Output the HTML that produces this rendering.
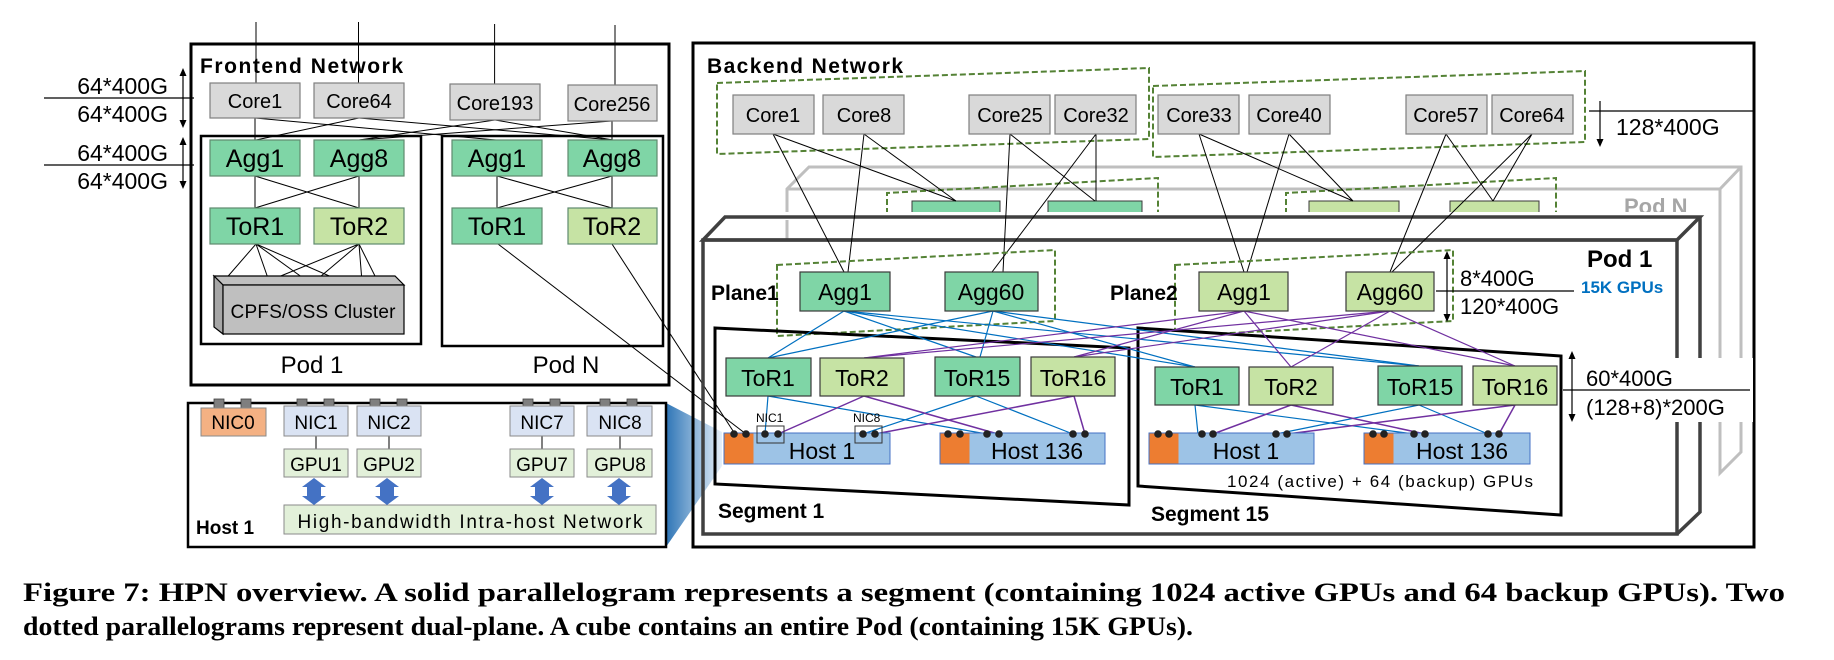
<!DOCTYPE html>
<html><head><meta charset="utf-8"><style>
html,body{margin:0;padding:0;background:#fff;}
svg{display:block;}
text{font-family:"Liberation Sans",sans-serif;}
.b{font-weight:bold;}
</style></head><body>
<svg width="1834" height="660" viewBox="0 0 1834 660" xmlns="http://www.w3.org/2000/svg">
<defs>
<linearGradient id="g" x1="0" x2="1" y1="0" y2="0"><stop offset="0" stop-color="#2e75b6"/><stop offset="1" stop-color="#e6f0fa"/></linearGradient>
</defs>
<g fill="none" stroke="#000" stroke-width="1">
<line x1="256" y1="22" x2="256" y2="83"/><line x1="358.5" y1="22" x2="358.5" y2="83"/>
<line x1="494.6" y1="24" x2="494.6" y2="84"/><line x1="615" y1="25" x2="615" y2="85"/>
</g>
<rect x="191" y="44" width="478" height="341" fill="none" stroke="#000" stroke-width="3"/>
<text x="200" y="73" class="b" font-size="21" textLength="203">Frontend Network</text>
<g stroke="#000" stroke-width="1">
<line x1="255" y1="118" x2="255" y2="140"/><line x1="255" y1="118" x2="496" y2="140"/>
<line x1="359" y1="118" x2="256" y2="140"/><line x1="359" y1="118" x2="613" y2="140"/>
<line x1="495" y1="120" x2="359" y2="140"/><line x1="495" y1="120" x2="613" y2="140"/>
<line x1="612" y1="121" x2="359" y2="140"/><line x1="612" y1="121" x2="612" y2="140"/>
</g>
<rect x="201" y="136" width="220" height="208" fill="none" stroke="#000" stroke-width="2.5"/>
<rect x="442" y="136" width="221" height="210" fill="none" stroke="#000" stroke-width="2.5"/>
<g stroke="#7f7f7f" stroke-width="1.2" fill="#d9d9d9">
<rect x="210" y="83" width="90" height="35"/><rect x="314" y="83" width="90" height="35"/>
<rect x="450" y="84" width="90" height="36"/><rect x="568" y="85" width="89" height="36"/>
</g>
<g font-size="20" text-anchor="middle">
<text x="255" y="108">Core1</text><text x="359" y="108">Core64</text>
<text x="495" y="110">Core193</text><text x="612" y="111">Core256</text>
</g>
<g stroke="#000" stroke-width="1">
<line x1="255" y1="176" x2="255" y2="208"/><line x1="255" y1="176" x2="359" y2="208"/>
<line x1="359" y1="176" x2="255" y2="208"/><line x1="359" y1="176" x2="359" y2="208"/>
<line x1="497" y1="176" x2="497" y2="208"/><line x1="497" y1="176" x2="612" y2="208"/>
<line x1="612" y1="176" x2="497" y2="208"/><line x1="612" y1="176" x2="612" y2="208"/>
<line x1="256" y1="244" x2="223" y2="282"/><line x1="256" y1="244" x2="270" y2="284"/><line x1="256" y1="244" x2="310" y2="283"/><line x1="256" y1="244" x2="350" y2="285"/>
<line x1="359" y1="244" x2="266" y2="282"/><line x1="359" y1="244" x2="314" y2="282"/><line x1="359" y1="244" x2="362" y2="282"/><line x1="359" y1="244" x2="375" y2="276"/>
<line x1="498" y1="244" x2="746" y2="434"/><line x1="612" y1="244" x2="735" y2="434"/>
</g>
<g stroke="#5f8a6f" stroke-width="1.2">
<rect x="210" y="140" width="90" height="36" fill="#7fd5a6"/><rect x="314" y="140" width="90" height="36" fill="#7fd5a6"/>
<rect x="452" y="140" width="90" height="36" fill="#7fd5a6"/><rect x="568" y="140" width="89" height="36" fill="#7fd5a6"/>
<rect x="210" y="208" width="90" height="36" fill="#7fd5a6"/><rect x="314" y="208" width="90" height="36" fill="#c6e3a4"/>
<rect x="452" y="208" width="90" height="36" fill="#7fd5a6"/><rect x="568" y="208" width="89" height="36" fill="#c6e3a4"/>
</g>
<g font-size="25" text-anchor="middle">
<text x="255" y="167">Agg1</text><text x="359" y="167">Agg8</text><text x="497" y="167">Agg1</text><text x="612" y="167">Agg8</text>
<text x="255" y="235">ToR1</text><text x="359" y="235">ToR2</text><text x="497" y="235">ToR1</text><text x="612" y="235">ToR2</text>
</g>
<polygon points="214,276 395,276 404,285 223,285" fill="#bfbfbf" stroke="#000" stroke-width="1.2"/>
<polygon points="214,276 223,285 223,334 214,327" fill="#a6a6a6" stroke="#000" stroke-width="1.2"/>
<rect x="223" y="285" width="181" height="49" fill="#bfbfbf" stroke="#000" stroke-width="1.2"/>
<text x="313" y="318" font-size="19" text-anchor="middle" textLength="165">CPFS/OSS Cluster</text>
<text x="312" y="373" font-size="24" text-anchor="middle">Pod 1</text>
<text x="566" y="373" font-size="24" text-anchor="middle">Pod N</text>
<g stroke="#000" stroke-width="1.2"><line x1="44" y1="98" x2="194" y2="98"/><line x1="44" y1="165" x2="194" y2="165"/>
<line x1="183" y1="72" x2="183" y2="124"/><line x1="183" y1="141" x2="183" y2="186"/></g>
<g fill="#000"><polygon points="183,68 179.5,76 186.5,76"/><polygon points="183,128 179.5,120 186.5,120"/><polygon points="183,137 179.5,145 186.5,145"/><polygon points="183,189 179.5,181 186.5,181"/></g>
<g font-size="23" text-anchor="end"><text x="168" y="94">64*400G</text><text x="168" y="122">64*400G</text><text x="168" y="161">64*400G</text><text x="168" y="189">64*400G</text></g>
<polygon points="666,403 722,432 722,466 666,547" fill="url(#g)"/>
<rect x="188" y="403" width="478" height="144" fill="none" stroke="#000" stroke-width="2.5"/>
<g fill="#7f7f7f" stroke="#404040" stroke-width="0.8">
<rect x="214" y="399" width="10" height="11"/><rect x="241" y="399" width="10" height="11"/>
<rect x="297" y="399" width="10" height="11"/><rect x="324" y="399" width="10" height="11"/>
<rect x="370" y="399" width="10" height="11"/><rect x="397" y="399" width="10" height="11"/>
<rect x="523" y="399" width="10" height="11"/><rect x="550" y="399" width="10" height="11"/>
<rect x="600" y="399" width="10" height="11"/><rect x="627" y="399" width="10" height="11"/>
</g>
<g stroke="#000" stroke-width="1"><line x1="316" y1="436" x2="316" y2="449"/><line x1="389" y1="436" x2="389" y2="449"/><line x1="542" y1="436" x2="542" y2="449"/><line x1="620" y1="436" x2="620" y2="449"/></g>
<rect x="201" y="408" width="65" height="28" fill="#f4b183" stroke="#8a8a8a"/>
<g fill="#dae3f3" stroke="#8a8a8a"><rect x="284" y="406" width="64" height="30"/><rect x="357" y="406" width="64" height="30"/><rect x="510" y="406" width="64" height="30"/><rect x="587" y="406" width="65" height="30"/></g>
<g fill="#e2f0d9" stroke="#8a8a8a"><rect x="284" y="449" width="64" height="28"/><rect x="357" y="449" width="64" height="28"/><rect x="510" y="449" width="64" height="28"/><rect x="587" y="449" width="65" height="28"/>
<rect x="284" y="505" width="372" height="29"/></g>
<g font-size="19" text-anchor="middle">
<text x="233" y="429">NIC0</text><text x="316" y="429">NIC1</text><text x="389" y="429">NIC2</text><text x="542" y="429">NIC7</text><text x="620" y="429">NIC8</text>
<text x="316" y="471">GPU1</text><text x="389" y="471">GPU2</text><text x="542" y="471">GPU7</text><text x="620" y="471">GPU8</text>
<text x="470" y="528" textLength="345">High-bandwidth Intra-host Network</text></g>
<g fill="#4472c4">
<polygon points="314,478 326,487 321,487 321,496 326,496 314,505 302,496 307,496 307,487 302,487"/>
<polygon points="387,478 399,487 394,487 394,496 399,496 387,505 375,496 380,496 380,487 375,487"/>
<polygon points="542,478 554,487 549,487 549,496 554,496 542,505 530,496 535,496 535,487 530,487"/>
<polygon points="619,478 631,487 626,487 626,496 631,496 619,505 607,496 612,496 612,487 607,487"/>
</g>
<text x="196" y="534" class="b" font-size="19">Host 1</text>

<rect x="693" y="43" width="1061" height="504" fill="none" stroke="#000" stroke-width="3"/>
<text x="707" y="73" class="b" font-size="21" textLength="196">Backend Network</text>
<g fill="none" stroke="#548235" stroke-width="2" stroke-dasharray="6,3">
<polygon points="717,83 1149,68 1149,139 717,154"/><polygon points="1153,86 1585,71 1585,142 1153,157"/>
</g>
<line x1="1589" y1="111" x2="1754" y2="111" stroke="#000" stroke-width="1.2"/>
<line x1="1600" y1="101" x2="1600" y2="142" stroke="#000" stroke-width="1.2"/><polygon points="1600,147 1596.5,139 1603.5,139"/>
<text x="1616" y="135" font-size="23">128*400G</text>
<g fill="none" stroke="#bfbfbf" stroke-width="3">
<polyline points="787,240 787,189 809,167 1741,167 1741,452 1720,473 1720,189 787,189"/>
<line x1="1720" y1="189" x2="1741" y2="167"/>
</g>
<text x="1624" y="214" class="b" font-size="22" fill="#a6a6a6">Pod N</text>
<g fill="none" stroke="#548235" stroke-width="2" stroke-dasharray="6,3">
<polyline points="887,214 887,193 1158,178 1158,214"/><polyline points="1286,214 1286,193 1556,178 1556,214"/>
</g>
<g stroke="#3a3a3a" stroke-width="1"><rect x="912" y="201" width="88" height="16" fill="#7fd5a6"/><rect x="1048" y="201" width="94" height="16" fill="#7fd5a6"/>
<rect x="1309" y="201" width="90" height="16" fill="#c6e3a4"/><rect x="1450" y="201" width="89" height="16" fill="#c6e3a4"/></g>
<rect x="700" y="212" width="1012" height="8" fill="#fff"/>
<g fill="none" stroke="#404040" stroke-width="3.5">
<polygon points="703,240 725,217 1700,217 1677,240"/>
<polyline points="1700,217 1700,512 1677,534"/>
<rect x="703" y="240" width="974" height="294"/>
</g>
<text x="1587" y="267" class="b" font-size="24">Pod 1</text>
<text x="1581" y="293" class="b" font-size="17" fill="#0070c0">15K GPUs</text>
<g stroke="#000" stroke-width="1">
<line x1="773" y1="134" x2="844" y2="272"/><line x1="773" y1="134" x2="956" y2="201"/>
<line x1="864" y1="134" x2="848" y2="272"/><line x1="864" y1="134" x2="956" y2="201"/>
<line x1="1010" y1="134" x2="1003" y2="272"/><line x1="1010" y1="134" x2="1095" y2="201"/>
<line x1="1096" y1="134" x2="992" y2="272"/><line x1="1096" y1="134" x2="1096" y2="201"/>
<line x1="1199" y1="134" x2="1244" y2="272"/><line x1="1199" y1="134" x2="1353" y2="201"/>
<line x1="1289" y1="134" x2="1247" y2="272"/><line x1="1289" y1="134" x2="1353" y2="201"/>
<line x1="1446" y1="134" x2="1390" y2="272"/><line x1="1446" y1="134" x2="1493" y2="201"/>
<line x1="1532" y1="134" x2="1392" y2="272"/><line x1="1532" y1="134" x2="1493" y2="201"/>
</g>
<g stroke="#7f7f7f" stroke-width="1.2" fill="#d9d9d9">
<rect x="733" y="95" width="81" height="39"/><rect x="823" y="95" width="81" height="39"/>
<rect x="969" y="95" width="81" height="39"/><rect x="1055" y="95" width="81" height="39"/>
<rect x="1158" y="95" width="81" height="39"/><rect x="1249" y="95" width="81" height="39"/>
<rect x="1406" y="95" width="81" height="39"/><rect x="1492" y="95" width="81" height="39"/>
</g>
<g font-size="20" text-anchor="middle">
<text x="773" y="122">Core1</text><text x="864" y="122">Core8</text><text x="1010" y="122">Core25</text><text x="1096" y="122">Core32</text>
<text x="1199" y="122">Core33</text><text x="1289" y="122">Core40</text><text x="1446" y="122">Core57</text><text x="1532" y="122">Core64</text>
</g>
<g fill="none" stroke="#548235" stroke-width="2" stroke-dasharray="6,3">
<polygon points="777,265 1055,250 1055,321 777,336"/><polygon points="1175,265 1453,250 1453,321 1175,336"/>
</g>
<text x="711" y="300" class="b" font-size="21">Plane1</text>
<text x="1110" y="300" class="b" font-size="21">Plane2</text>
<line x1="1436" y1="291" x2="1574" y2="291" stroke="#000" stroke-width="1.2"/>
<line x1="1447" y1="256" x2="1447" y2="318" stroke="#000" stroke-width="1.2"/>
<polygon points="1447,251 1443.5,259 1450.5,259"/><polygon points="1447,322 1443.5,314 1450.5,314"/>
<text x="1460" y="286" font-size="22">8*400G</text><text x="1460" y="314" font-size="22">120*400G</text>
<polygon points="715,328 1129,348 1129,505 715,484" fill="none" stroke="#000" stroke-width="3"/>
<polygon points="1138,328 1561,356 1561,515 1138,486" fill="#fff" stroke="#000" stroke-width="3"/>
<rect x="1575" y="358" width="178" height="64" fill="#fff"/>
<line x1="1563" y1="390" x2="1750" y2="390" stroke="#000" stroke-width="1.2"/>
<line x1="1572" y1="356" x2="1572" y2="418" stroke="#000" stroke-width="1.2"/>
<polygon points="1572,351 1568.5,359 1575.5,359"/><polygon points="1572,422 1568.5,414 1575.5,414"/>
<text x="1586" y="386" font-size="22">60*400G</text><text x="1586" y="415" font-size="22">(128+8)*200G</text>
<g stroke="#0070c0" stroke-width="1.2">
<line x1="844" y1="311" x2="768" y2="358"/><line x1="844" y1="311" x2="976" y2="357"/><line x1="844" y1="311" x2="1195" y2="367"/><line x1="844" y1="311" x2="1419" y2="366"/>
<line x1="993" y1="311" x2="768" y2="358"/><line x1="993" y1="311" x2="980" y2="357"/><line x1="993" y1="311" x2="1195" y2="367"/><line x1="993" y1="311" x2="1419" y2="366"/>
</g>
<g stroke="#7030a0" stroke-width="1.2">
<line x1="1244" y1="311" x2="864" y2="358"/><line x1="1244" y1="311" x2="1074" y2="357"/><line x1="1244" y1="311" x2="1291" y2="367"/><line x1="1244" y1="311" x2="1515" y2="366"/>
<line x1="1390" y1="311" x2="864" y2="358"/><line x1="1390" y1="311" x2="1074" y2="357"/><line x1="1390" y1="311" x2="1291" y2="367"/><line x1="1390" y1="311" x2="1515" y2="366"/>
</g>
<g stroke="#0070c0" stroke-width="1.2">
<line x1="768" y1="396" x2="765" y2="434"/><line x1="768" y1="396" x2="987" y2="434"/>
<line x1="976" y1="396" x2="863" y2="434"/><line x1="976" y1="396" x2="1073" y2="434"/>
<line x1="1195" y1="405" x2="1198" y2="434"/><line x1="1195" y1="405" x2="1414" y2="434"/>
<line x1="1419" y1="405" x2="1276" y2="434"/><line x1="1419" y1="405" x2="1488" y2="434"/>
</g>
<g stroke="#7030a0" stroke-width="1.5">
<line x1="864" y1="396" x2="778" y2="434"/><line x1="864" y1="396" x2="998" y2="434"/>
<line x1="1074" y1="396" x2="875" y2="434"/><line x1="1074" y1="396" x2="1085" y2="434"/>
<line x1="1291" y1="405" x2="1213" y2="434"/><line x1="1291" y1="405" x2="1425" y2="434"/>
<line x1="1515" y1="405" x2="1287" y2="434"/><line x1="1515" y1="405" x2="1499" y2="434"/>
</g>
<g stroke="#3a3a3a" stroke-width="1.2">
<rect x="800" y="272" width="90" height="39" fill="#7fd5a6"/><rect x="945" y="272" width="93" height="39" fill="#7fd5a6"/>
<rect x="1199" y="272" width="89" height="39" fill="#c6e3a4"/><rect x="1346" y="272" width="88" height="39" fill="#c6e3a4"/>
<rect x="726" y="358" width="85" height="38" fill="#7fd5a6"/><rect x="820" y="358" width="84" height="38" fill="#c6e3a4"/>
<rect x="935" y="357" width="85" height="39" fill="#7fd5a6"/><rect x="1031" y="357" width="84" height="39" fill="#c6e3a4"/>
<rect x="1155" y="367" width="84" height="38" fill="#7fd5a6"/><rect x="1249" y="367" width="84" height="38" fill="#c6e3a4"/>
<rect x="1378" y="366" width="84" height="39" fill="#7fd5a6"/><rect x="1473" y="366" width="84" height="39" fill="#c6e3a4"/>
</g>
<g font-size="23" text-anchor="middle">
<text x="845" y="300">Agg1</text><text x="991" y="300">Agg60</text><text x="1244" y="300">Agg1</text><text x="1390" y="300">Agg60</text>
<text x="768" y="386">ToR1</text><text x="862" y="386">ToR2</text><text x="977" y="386">ToR15</text><text x="1073" y="386">ToR16</text>
<text x="1197" y="395">ToR1</text><text x="1291" y="395">ToR2</text><text x="1420" y="395">ToR15</text><text x="1515" y="395">ToR16</text>
</g>
<g stroke="#4472c4" stroke-width="1"><rect x="724" y="433" width="166" height="31" fill="#9dc3e6"/><rect x="940" y="433" width="165" height="31" fill="#9dc3e6"/>
<rect x="1149" y="433" width="165" height="31" fill="#9dc3e6"/><rect x="1364" y="433" width="166" height="31" fill="#9dc3e6"/></g>
<g fill="#ed7d31"><rect x="724.5" y="433.5" width="29" height="30"/><rect x="940.5" y="433.5" width="29" height="30"/><rect x="1149.5" y="433.5" width="29" height="30"/><rect x="1364.5" y="433.5" width="29" height="30"/></g>
<g font-size="23" text-anchor="middle"><text x="822" y="459">Host 1</text><text x="1037" y="459">Host 136</text><text x="1246" y="459">Host 1</text><text x="1462" y="459">Host 136</text></g>
<g fill="#222">
<circle cx="734" cy="434" r="3.8"/><circle cx="746" cy="434" r="3.8"/><circle cx="765" cy="434" r="3.8"/><circle cx="778" cy="434" r="3.8"/><circle cx="863" cy="434" r="3.8"/><circle cx="875" cy="434" r="3.8"/>
<circle cx="948" cy="434" r="3.8"/><circle cx="960" cy="434" r="3.8"/><circle cx="987" cy="434" r="3.8"/><circle cx="999" cy="434" r="3.8"/><circle cx="1073" cy="434" r="3.8"/><circle cx="1085" cy="434" r="3.8"/>
<circle cx="1158" cy="434" r="3.8"/><circle cx="1169" cy="434" r="3.8"/><circle cx="1202" cy="434" r="3.8"/><circle cx="1213" cy="434" r="3.8"/><circle cx="1276" cy="434" r="3.8"/><circle cx="1287" cy="434" r="3.8"/>
<circle cx="1373" cy="434" r="3.8"/><circle cx="1384" cy="434" r="3.8"/><circle cx="1414" cy="434" r="3.8"/><circle cx="1425" cy="434" r="3.8"/><circle cx="1488" cy="434" r="3.8"/><circle cx="1499" cy="434" r="3.8"/>
</g>
<g fill="none" stroke="#333" stroke-width="1"><rect x="757" y="426" width="27" height="17"/><rect x="855" y="426" width="27" height="17"/></g>
<text x="756" y="422" font-size="12">NIC1</text><text x="853" y="422" font-size="12">NIC8</text>
<text x="1227" y="487" font-size="17" textLength="306">1024 (active) + 64 (backup) GPUs</text>
<text x="718" y="518" class="b" font-size="21">Segment 1</text>
<text x="1151" y="521" class="b" font-size="21">Segment 15</text>
<text x="23" y="601" font-size="26" font-weight="bold" textLength="1762" lengthAdjust="spacingAndGlyphs" style="font-family:'Liberation Serif',serif">Figure 7: HPN overview. A solid parallelogram represents a segment (containing 1024 active GPUs and 64 backup GPUs). Two</text>
<text x="23" y="635" font-size="26" font-weight="bold" textLength="1170" lengthAdjust="spacingAndGlyphs" style="font-family:'Liberation Serif',serif">dotted parallelograms represent dual-plane. A cube contains an entire Pod (containing 15K GPUs).</text>
</svg>
</body></html>
